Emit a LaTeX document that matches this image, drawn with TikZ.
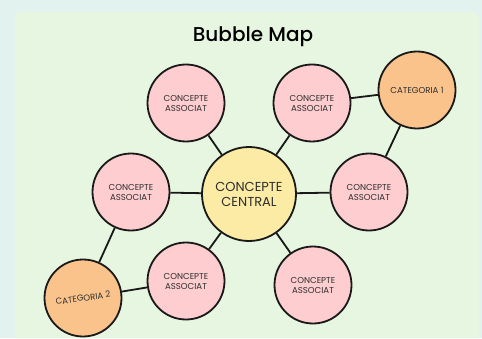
\documentclass[tikz,border=0pt]{standalone}
\usepackage{fontspec}
\setmainfont{Poppins}
\newfontfamily\titlefont{Poppins}[BoldFont={Poppins Medium}]
\definecolor{outerbg}{HTML}{E2F2EE}
\definecolor{panelbg}{HTML}{E7F6E0}
\definecolor{pinkfill}{HTML}{FDCDCF}
\definecolor{yellowfill}{HTML}{FBEBA4}
\definecolor{orangefill}{HTML}{FBC38C}
\definecolor{txt}{HTML}{2E2E2E}
\tikzset{
  bubble/.style={circle, draw=black!90, line width=1.8pt, inner sep=0pt, align=center, text=txt, font=\fontsize{8.6}{10}\selectfont},
  assoc/.style={bubble, fill=pinkfill, minimum size=77pt},
  central/.style={bubble, fill=yellowfill, minimum size=94pt, font=\fontsize{13}{15}\selectfont},
  categ/.style={bubble, fill=orangefill, minimum size=77pt, font=\fontsize{8.6}{10}\selectfont},
  link/.style={line width=1.8pt, draw=black!90}
}
\begin{document}
\begin{tikzpicture}[x=1pt,y=1pt]
\fill[outerbg] (0,0) rectangle (482,338);
\useasboundingbox (0,0) rectangle (482,338);
\fill[panelbg] (15,0) -- (15,320) arc[start angle=180, end angle=90, radius=6] -- (473,326) arc[start angle=90, end angle=0, radius=6] -- (479,0) -- cycle;
\node[font=\titlefont\bfseries\fontsize{20}{22}\selectfont, text=black] (title) at (253,301) {Bubble Map};
\node[central] (c) at (249,144) {CONCEPTE\\CENTRAL};
\node[assoc] (tl) at (186,235) {CONCEPTE\\ASSOCIAT};
\node[assoc] (tr) at (312,235) {CONCEPTE\\ASSOCIAT};
\node[categ] (k1) at (417,248) {CATEGORIA 1};
\node[assoc] (l) at (131,146) {CONCEPTE\\ASSOCIAT};
\node[assoc] (r) at (369,146) {CONCEPTE\\ASSOCIAT};
\node[assoc] (bl) at (186,57) {CONCEPTE\\ASSOCIAT};
\node[assoc] (br) at (313,53) {CONCEPTE\\ASSOCIAT};
\node[categ] (k2) at (83,40) {};
\node[rotate=8, text=txt, font=\fontsize{8.6}{10}\selectfont] (k2t) at (k2.center) {CATEGORIA 2};
\draw[link] (c) -- (tl);
\draw[link] (c) -- (tr);
\draw[link] (c) -- (l);
\draw[link] (c) -- (r);
\draw[link] (c) -- (bl);
\draw[link] (c) -- (br);
\draw[link] (tr) -- (k1);
\draw[link] (r) -- (k1);
\draw[link] (l) -- (k2);
\draw[link] (bl) -- (k2);
\end{tikzpicture}
\end{document}
